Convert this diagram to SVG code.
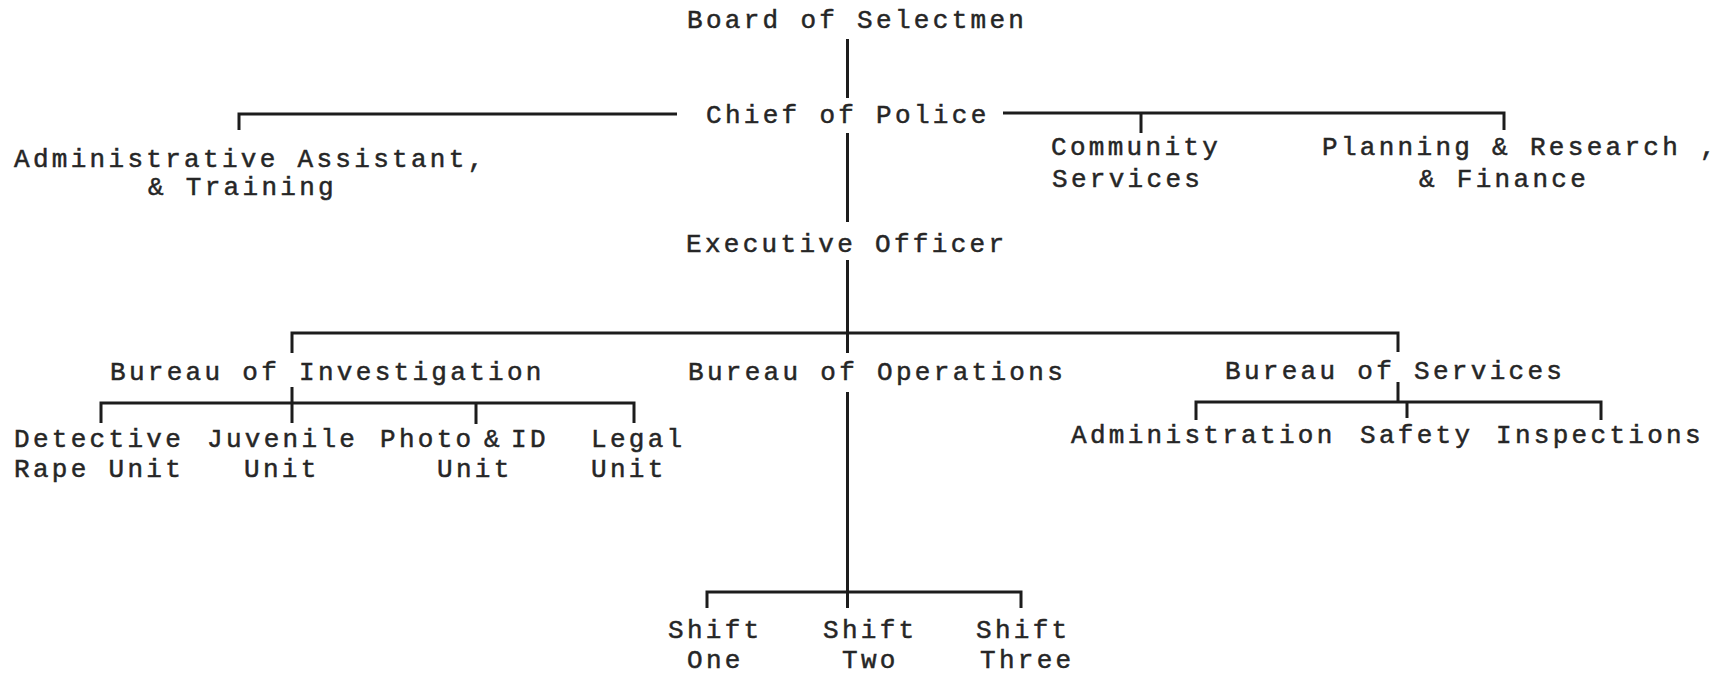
<svg xmlns="http://www.w3.org/2000/svg" width="1717" height="675" viewBox="0 0 1717 675">
  <style>
    text { font-family: "Liberation Mono", "Courier New", monospace; font-size: 26px; letter-spacing: 3.3px; fill: #262626; stroke: #262626; stroke-width: 0.5px; }
    .ln { fill: none; stroke: #1c1c1c; stroke-width: 3; stroke-linecap: butt; stroke-linejoin: miter; }
  </style>
  <rect width="1717" height="675" fill="#ffffff"/>

  <!-- connectors -->
  <g id="connectors">
    <!-- board to chief -->
    <path class="ln" d="M847.5 39 V98"/>
    <!-- chief staff bar -->
    <path class="ln" d="M239 130 V114 H677"/>
    <path class="ln" d="M1003 113 H1504 V130 M1141 113 V133"/>
    <!-- chief to executive -->
    <path class="ln" d="M847.5 133 V222"/>
    <!-- executive to bureaus -->
    <path class="ln" d="M847.5 260 V353 M292 353 V333 H1398 V352"/>
    <!-- investigation units -->
    <path class="ln" d="M292 387 V423 M101 423 V403 H634 V423 M476 403 V424"/>
    <!-- services units -->
    <path class="ln" d="M1398 382 V402 M1196 420 V402 H1601 V420 M1407 402 V418"/>
    <!-- operations shifts -->
    <path class="ln" d="M847.5 392 V608 M707 608 V592 H1021 V608"/>
  </g>

  <g id="board"><text x="687" y="28">Board of Selectmen</text></g>
  <g id="chief"><text x="706" y="123">Chief of Police</text></g>
  <g id="admin-assistant">
    <text x="14" y="167">Administrative Assistant,</text>
    <text x="148" y="195">&amp; Training</text>
  </g>
  <g id="community-services">
    <text x="1051" y="155">Community</text>
    <text x="1052" y="187">Services</text>
  </g>
  <g id="planning">
    <text x="1322" y="155">Planning &amp; Research ,</text>
    <text x="1419" y="187">&amp; Finance</text>
  </g>
  <g id="executive"><text x="686" y="252">Executive Officer</text></g>

  <g id="bureau-investigation"><text x="110" y="380">Bureau of Investigation</text></g>
  <g id="bureau-operations"><text x="688" y="380">Bureau of Operations</text></g>
  <g id="bureau-services"><text x="1225" y="379">Bureau of Services</text></g>

  <g id="detective">
    <text x="14" y="447">Detective</text>
    <text x="14" y="477">Rape Unit</text>
  </g>
  <g id="juvenile">
    <text x="207" y="447">Juvenile</text>
    <text x="244" y="477">Unit</text>
  </g>
  <g id="photo-id">
    <!-- the ampersand sits in a half-width gap -->
    <text x="380" y="447">Photo</text>
    <text x="484" y="447">&amp;</text>
    <text x="511" y="447">ID</text>
    <text x="437" y="477">Unit</text>
  </g>
  <g id="legal">
    <text x="591" y="447">Legal</text>
    <text x="591" y="477">Unit</text>
  </g>

  <g id="administration"><text x="1071" y="443">Administration</text></g>
  <g id="safety"><text x="1360" y="443">Safety</text></g>
  <g id="inspections"><text x="1496" y="443">Inspections</text></g>

  <g id="shift-one">
    <text x="668" y="638">Shift</text>
    <text x="687" y="668">One</text>
  </g>
  <g id="shift-two">
    <text x="823" y="638">Shift</text>
    <text x="842" y="668">Two</text>
  </g>
  <g id="shift-three">
    <text x="976" y="638">Shift</text>
    <text x="980" y="668">Three</text>
  </g>
</svg>
